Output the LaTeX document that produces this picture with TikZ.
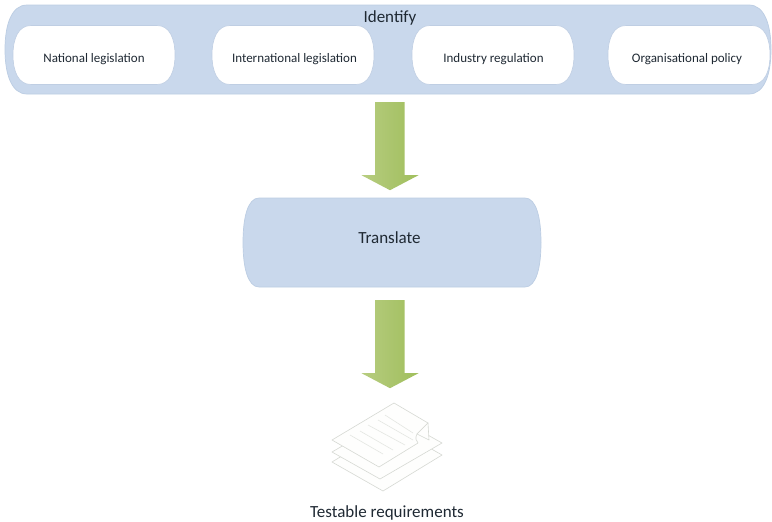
\documentclass[tikz,border=0pt]{standalone}
\usepackage{fontspec}
\setmainfont{Carlito}
\usetikzlibrary{calc}
\definecolor{boxblue}{HTML}{C9D8EC}
\definecolor{boxedge}{HTML}{BCCDE3}
\definecolor{whiteedge}{HTML}{BFCEE3}
\definecolor{txt}{HTML}{1F2933}
\definecolor{arrowlight}{HTML}{B7CD80}
\definecolor{arrowmid}{HTML}{ABC56E}
\definecolor{arrowdark}{HTML}{A0BF5C}
\definecolor{sheet}{HTML}{FEFEFD}
\definecolor{sheetedge}{HTML}{D6D9D3}
\definecolor{sheetline}{HTML}{E4E6E2}
\tikzset{
  x=1pt,y=-1pt,
  capsule/.style={inner sep=0pt,text=txt,align=center},
  bluefill/.style={fill=boxblue,draw=boxedge,line width=.7pt},
  whitefill/.style={fill=white,draw=whiteedge,line width=.6pt},
  page/.style={fill=sheet,draw=sheetedge,line width=.6pt,line join=round},
  rule/.style={draw=sheetline,line width=.6pt},
  small/.style={font=\fontsize{13}{15}\selectfont,text=txt},
  large/.style={font=\fontsize{17}{19}\selectfont,text=txt},
}
% #1 style, #2 name, #3 centre x, #4 centre y, #5 width, #6 height, #7 corner run
\newcommand{\capsulebox}[7]{%
  \path[#1]
    ({#3-#5/2+#7},{#4-#6/2}) -- ({#3+#5/2-#7},{#4-#6/2})
    .. controls ({#3+#5/2-#7*.3},{#4-#6/2}) and ({#3+#5/2},{#4-#6*.28}) .. ({#3+#5/2},{#4})
    .. controls ({#3+#5/2},{#4+#6*.28}) and ({#3+#5/2-#7*.3},{#4+#6/2}) .. ({#3+#5/2-#7},{#4+#6/2})
    -- ({#3-#5/2+#7},{#4+#6/2})
    .. controls ({#3-#5/2+#7*.3},{#4+#6/2}) and ({#3-#5/2},{#4+#6*.28}) .. ({#3-#5/2},{#4})
    .. controls ({#3-#5/2},{#4-#6*.28}) and ({#3-#5/2+#7*.3},{#4-#6/2}) .. ({#3-#5/2+#7},{#4-#6/2})
    -- cycle;
  \node[capsule,minimum width=#5 pt,minimum height=#6 pt] (#2) at (#3,#4) {};
}
% block arrow: #1 = top centre of the shaft
\newcommand{\blockarrow}[1]{%
  \begin{scope}[shift={(#1)}]
    \shade[left color=arrowlight,right color=arrowdark,middle color=arrowmid]
      (-15,0) -- (14.5,0) -- (14.5,73) -- (28.5,73) -- (0,88) -- (-28.5,73) -- (-15,73) -- cycle;
  \end{scope}
}
\begin{document}
\begin{tikzpicture}
\useasboundingbox (0,0) rectangle (772,522);
\fill[white] (0,0) rectangle (772,522);

\capsulebox{bluefill}{identify}{388}{49.5}{766}{89}{22}
\node[large] (identifylabel) at (390,18) {Identify};

\capsulebox{whitefill}{national}{94}{55}{162}{59}{18}
\capsulebox{whitefill}{international}{293}{55}{162}{59}{18}
\capsulebox{whitefill}{industry}{493}{55}{162}{59}{18}
\capsulebox{whitefill}{organisational}{689}{55}{162}{59}{18}
\node[small] (nationallabel) at ($(national.center)+(0,4)$) {National legislation};
\node[small] (internationallabel) at ($(international.center)+(1.5,4)$) {International legislation};
\node[small] (industrylabel) at ($(industry.center)+(0.5,4)$) {Industry regulation};
\node[small] (organisationallabel) at ($(organisational.center)+(-2,4)$) {Organisational policy};

\capsulebox{bluefill}{translate}{392}{242.5}{298}{89}{16}
\node[large] (translatelabel) at ($(translate.center)+(-2.5,-5)$) {Translate};

\coordinate (a1) at ($(identify.south)+(2,8)$);
\coordinate (a2) at ($(translate.south)+(-2,13)$);
\blockarrow{a1}
\blockarrow{a2}

% stack of sheets
\path[page] (332,462) -- (391,426) -- (442,455) -- (383,491) -- cycle;
\path[page] (332,452) -- (394,416) -- (442,443) -- (380,479) -- cycle;
\path[page] (332,440) -- (394,403) -- (428,423) -- (417,434) .. controls (415,438) and (416,441) .. (418,443) -- (379,467) -- cycle;
\path[page] (428,423) -- (429,440) -- (417,434) -- cycle;
\foreach \a/\b/\c/\d in {350/435/383/454, 360/431/393/450, 368/425/405/445, 378/420/413/440, 385/415/413/433}
  \draw[rule] (\a,\b) -- (\c,\d);

\node[large] (testable) at (387,512.5) {Testable requirements};
\end{tikzpicture}
\end{document}
